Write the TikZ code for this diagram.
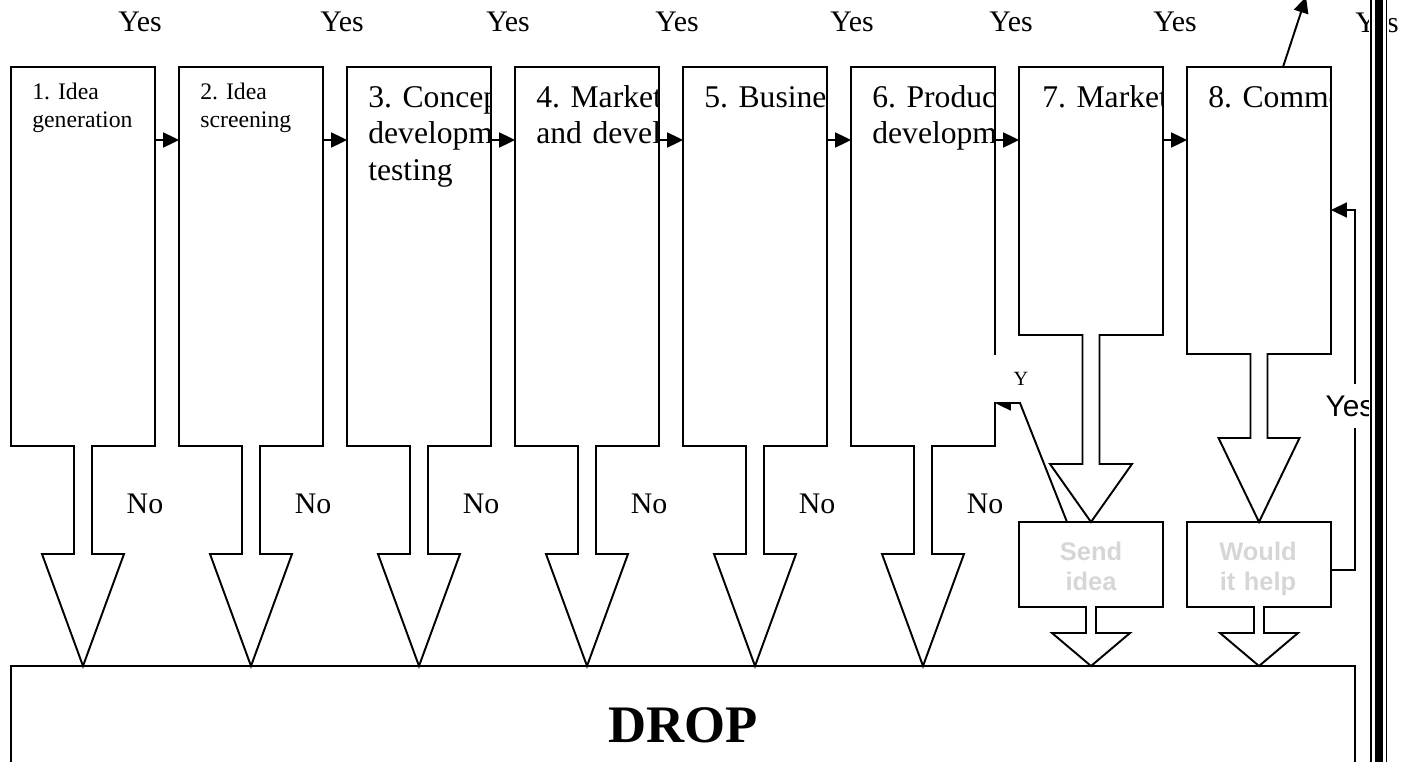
\documentclass[tikz,border=0pt]{standalone}
\usepackage{fontspec}
\setmainfont{Liberation Serif}
\newfontfamily\arialfont{Liberation Sans}
\usetikzlibrary{arrows.meta}
\frenchspacing

\tikzset{
  blockline/.style={draw, line width=1.1pt},
  flow/.style={line width=1.1pt, -{Triangle[length=9pt,width=8.5pt]}},
  answer/.style={anchor=base, inner sep=0pt, font=\fontsize{17}{20}\selectfont},
  stagetext/.style={anchor=base west, inner sep=0pt, text width=4cm, align=left, font=\fontsize{18}{21}\selectfont},
  smalltext/.style={stagetext, font=\fontsize{13.5}{16.5}\selectfont},
  asktext/.style={anchor=base, inner sep=0pt, text width=2.8cm, align=center, text=black!16, font=\arialfont\bfseries\fontsize{14.5}{17.5}\selectfont},
  pics/callout/.style n args={5}{code={
    \draw[blockline] (0,0) -- (144,0) -- (144,#1) -- (72+#4,#1) -- (72+#4,#2) -- (72+#5,#2)
      -- (72,#3) -- (72-#5,#2) -- (72-#4,#2) -- (72-#4,#1) -- (0,#1) -- cycle;
    \coordinate (-in) at (0,73);
    \coordinate (-out) at (144,73);
  }},
}

\begin{document}
\begin{tikzpicture}[x=0.02cm, y=-0.02cm]
  \useasboundingbox (0,0) rectangle (1416,761);
  \clip (0,0) rectangle (1416,761);

  \begin{scope}
    \clip \foreach \x in {11,179,...,1187} {(\x,67) rectangle ++(144,268)};
    \node[smalltext] (t1) at (32,99) {1. Idea\\generation};
    \node[smalltext] (t2) at (200,99) {2. Idea\\screening};
    \node[stagetext] (t3) at (368,107) {3. Concep\\developm\\testing};
    \node[stagetext] (t4) at (536,107) {4. Market\\and devel};
    \node[stagetext] (t5) at (704,107) {5. Busines};
    \node[stagetext] (t6) at (872,107) {6. Produc\\developm};
    \node[stagetext] (t7) at (1042,107) {7. Market};
    \node[stagetext] (t8) at (1208,107) {8. Comme};
  \end{scope}

  \pic (s1) at (11,67) {callout={379}{487}{599}{9}{41}};
  \pic (s2) at (179,67) {callout={379}{487}{599}{9}{41}};
  \pic (s3) at (347,67) {callout={379}{487}{599}{9}{41}};
  \pic (s4) at (515,67) {callout={379}{487}{599}{9}{41}};
  \pic (s5) at (683,67) {callout={379}{487}{599}{9}{41}};
  \pic (s6) at (851,67) {callout={379}{487}{599}{9}{41}};
  \pic (s7) at (1019,67) {callout={268}{397}{455}{8.5}{41}};
  \pic (s8) at (1187,67) {callout={287}{371}{455}{8.5}{40.5}};
  \pic (send) at (1019,522) {callout={85}{111}{144}{5}{39}};
  \pic (help) at (1187,522) {callout={85}{111}{144}{5}{39}};

  \node[asktext] (sendtxt) at (1091,560) {Send\\idea};
  \node[asktext] (helptxt) at (1258,560) {Would\\it help};

  \draw[flow] (s1-out) -- (s2-in);
  \draw[flow] (s2-out) -- (s3-in);
  \draw[flow] (s3-out) -- (s4-in);
  \draw[flow] (s4-out) -- (s5-in);
  \draw[flow] (s5-out) -- (s6-in);
  \draw[flow] (s6-out) -- (s7-in);
  \draw[flow] (s7-out) -- (s8-in);

  \node[answer] (y1) at (140,31) {Yes};
  \node[answer] (y2) at (342,31) {Yes};
  \node[answer] (y3) at (508,31) {Yes};
  \node[answer] (y4) at (677,31) {Yes};
  \node[answer] (y5) at (852,31) {Yes};
  \node[answer] (y6) at (1011,31) {Yes};
  \node[answer] (y7) at (1175,31) {Yes};
  \node[answer, anchor=base west] (y8) at (1355,32) {Yes};

  \node[answer] (n1) at (145,513) {No};
  \node[answer] (n2) at (313,513) {No};
  \node[answer] (n3) at (481,513) {No};
  \node[answer] (n4) at (649,513) {No};
  \node[answer] (n5) at (817,513) {No};
  \node[answer] (n6) at (985,513) {No};

  \node[draw, line width=1.1pt, minimum width=26.88cm, minimum height=2.36cm, inner sep=0pt,
    font=\bfseries\fontsize{30}{34}\selectfont] (drop) at (683,725) {DROP};

  \coordinate (sendy) at (1067,522);
  \coordinate (s6y) at (995,403);
  \draw[flow] (sendy) -- ++(-47,-119) -- (s6y);
  \node[fill=white, inner sep=0pt, minimum width=1.2cm, minimum height=0.94cm,
    font=\fontsize{11.5}{13}\selectfont] (ylbl) at (1021,378.5) {Y};

  \coordinate (helpfb) at (1331,570);
  \coordinate (s8fb) at (1331,210);
  \draw[flow] (helpfb) -- ++(24,0) |- (s8fb);
  \node[fill=white, inner xsep=1pt, inner ysep=6.5pt, font=\arialfont\fontsize{17}{19}\selectfont] (yfb) at (1350,406) {Yes};

  \coordinate (s8top) at (1283,67);
  \coordinate (exit) at (1306,-3);
  \draw[flow] (s8top) -- (exit);

  \fill[white] (1369,-10) rectangle (1389,780);
  \draw[line width=0.6pt] (1371,-10) -- (1371,780);
  \draw[line width=4.6pt] (1379,-10) -- (1379,780);
  \draw[line width=0.6pt] (1386.5,-10) -- (1386.5,780);
\end{tikzpicture}
\end{document}
